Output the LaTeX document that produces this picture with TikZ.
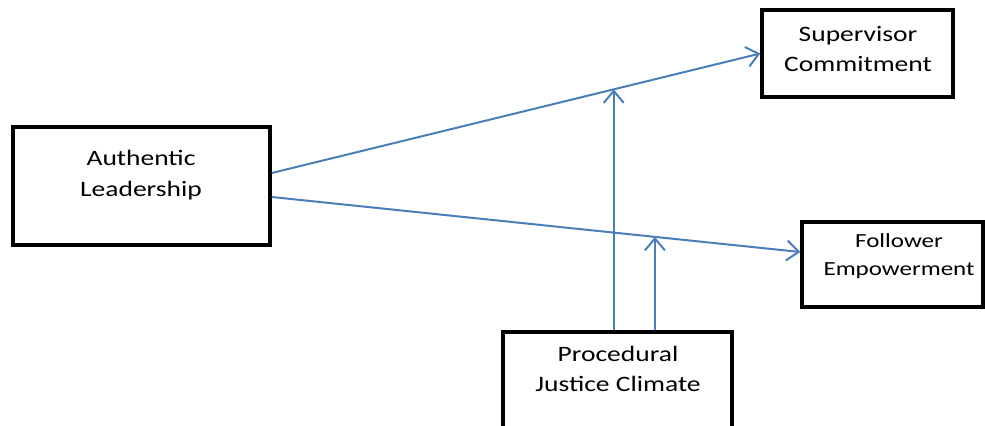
\documentclass[tikz,border=0pt]{standalone}
\usepackage{fontspec}
\setmainfont{Carlito}[FakeStretch=1.25]
\usepackage{tikz}
\usetikzlibrary{arrows.meta, calc}
\definecolor{linkblue}{HTML}{4A7EBB}

\begin{document}
\begin{tikzpicture}[
    x=0.75pt, y=-0.75pt,
    >={Straight Barb[length=9pt, width=15pt]},
    box/.style={draw, line width=2.6pt, inner sep=0pt, fill=white},
    txt/.style={align=center, inner sep=0pt, font=\fontsize{16.5}{23}\selectfont},
    link/.style={draw=linkblue, line width=1.5pt, ->},
]
    \useasboundingbox (0,0) rectangle (985,425);
    \clip (0,0) rectangle (985,425);

    \node[box, minimum width=192.75pt, minimum height=88.5pt] (lead) at (141.5,186) {};
    \node[box, minimum width=143.25pt, minimum height=65.25pt] (sup) at (857.5,53.5) {};
    \node[box, minimum width=135.75pt, minimum height=63.75pt] (emp) at (892.5,264.5) {};
    \node[box, minimum width=171.75pt, minimum height=103.5pt] (just) at (617.5,401) {};

    % Box texts
    \node[txt] (leadtxt) at (141,175) {Authentic\\Leadership};
    \node[txt] (suptxt) at (858,49) {Supervisor\\Commitment};
    \node[txt, font=\fontsize{15}{20.5}\selectfont] (emptxt) at (899,256) {Follower\\Empowerment};
    \node[txt] (justtxt) at (618,369) {Procedural\\Justice Climate};

    \coordinate (a1) at ($(lead.east)+(0,-13)$);
    \coordinate (a2) at ($(lead.east)+(0,11)$);
    \coordinate (b2) at ($(emp.west)+(0,-12.5)$);
    \coordinate (m1) at ($(a1)!0.7!(sup.west)$);
    \coordinate (m2) at ($(a2)!0.725!(b2)$);

    \draw[link] (a1) -- (sup.west);
    \draw[link] (a2) -- (b2);
    \draw[link] (just.north -| m1) -- (m1);
    \draw[link] (just.north -| m2) -- (m2);
\end{tikzpicture}
\end{document}
